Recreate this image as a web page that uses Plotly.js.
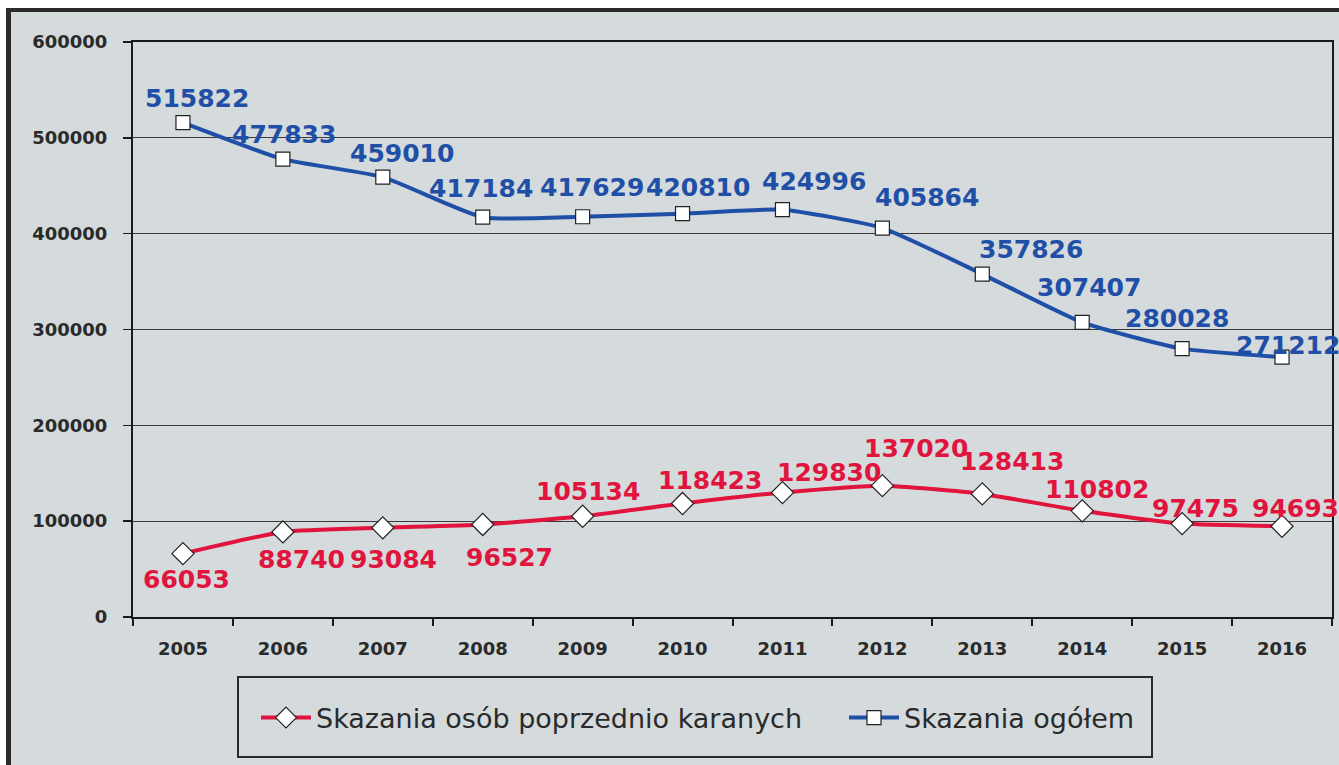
<!DOCTYPE html>
<html>
<head>
<meta charset="utf-8">
<script src="https://cdn.plot.ly/plotly-3.0.1.min.js"></script>
<style>
  html,body{margin:0;padding:0;background:#fff;}
  #wrap{position:relative;width:1339px;height:765px;overflow:hidden;}
  #chart{position:absolute;left:0;top:0;width:1339px;height:765px;}
  .b{position:absolute;}
</style>
</head>
<body>
<div id="wrap">
  <div id="chart"></div>
  <div class="b" style="left:0;top:0;width:1339px;height:8px;background:#fff"></div>
  <div class="b" style="left:0;top:8px;width:1339px;height:4px;background:#2b2b2b"></div>
  <div class="b" style="left:0;top:0;width:6px;height:765px;background:#fff"></div>
  <div class="b" style="left:6px;top:8px;width:5px;height:757px;background:#2b2b2b"></div>
</div>
<script>
const years = ['2005','2006','2007','2008','2009','2010','2011','2012','2013','2014','2015','2016'];
const totalConvictions = [515822, 477833, 459010, 417184, 417629, 420810, 424996, 405864, 357826, 307407, 280028, 271212];
const repeatConvictions = [66053, 88740, 93084, 96527, 105134, 118423, 129830, 137020, 128413, 110802, 97475, 94693];
const seriesNames = ['Skazania osób poprzednio karanych', 'Skazania ogółem'];
const yTicks = [0, 100000, 200000, 300000, 400000, 500000, 600000];

// label placement offsets in pixels relative to each marker (style, not data)
const totalLabelShiftX = [14, 1, 19, -2, 9, 15, 32, 45, 49, 7, -5, 6];
const totalLabelShiftY = [24, 25, 24, 29, 29, 26, 28, 31, 25, 35, 30, 12];
const repeatLabelShiftX = [4, 19, 11, 27, 5, 27, 47, 34, 30, 15, 13, 13];
const repeatLabelShiftY = [-26, -28, -32, -33, 25, 23, 20, 37, 32, 21, 15, 18];

const BLUE = '#1f4fa6';
const RED = '#e0143c';
const BG = '#d5dadd';
const DARK = '#2a2a2a';

const traces = [
  {
    x: years, y: repeatConvictions, name: seriesNames[0], legend: 'legend',
    type: 'scatter', mode: 'lines+markers',
    line: {color: RED, width: 4, shape: 'spline', smoothing: 0.5},
    marker: {symbol: 'diamond', size: 17, color: '#ffffff', line: {color: '#222', width: 1.2}},
    cliponaxis: false
  },
  {
    x: years, y: totalConvictions, name: seriesNames[1], legend: 'legend2',
    type: 'scatter', mode: 'lines+markers',
    line: {color: BLUE, width: 4, shape: 'spline', smoothing: 0.5},
    marker: {symbol: 'square', size: 14, color: '#ffffff', line: {color: '#222', width: 1.2}},
    cliponaxis: false
  }
];

// x given as the category index of years[i] on the category axis
function labels(values, color, sx, sy) {
  return values.map((v, i) => ({
    x: years.indexOf(years[i]), y: v, xref: 'x', yref: 'y', text: String(v), showarrow: false,
    xanchor: 'center', yanchor: 'middle', xshift: sx[i], yshift: sy[i],
    font: {family: 'DejaVu Sans', size: 25, color: color, weight: 'bold'}
  }));
}

const legendBase = {
  orientation: 'h', xanchor: 'left', yanchor: 'middle', y: (617 - 718) / 575,
  font: {family: 'DejaVu Sans', size: 27, color: DARK},
  bgcolor: 'rgba(0,0,0,0)', borderwidth: 0, itemwidth: 50
};

const layout = {
  width: 1339, height: 765,
  margin: {l: 133, r: 7, t: 42, b: 148},
  paper_bgcolor: BG, plot_bgcolor: BG,
  showlegend: true,
  legend: Object.assign({}, legendBase, {x: (256 - 133) / 1199}),
  legend2: Object.assign({}, legendBase, {x: (844 - 133) / 1199}),
  xaxis: {
    type: 'category', range: [-0.5, 11.5],
    showline: true, linecolor: '#1a1a1a', linewidth: 2, mirror: true,
    ticks: 'outside', tickson: 'boundaries', ticklen: 7, tickcolor: '#1a1a1a', tickwidth: 2,
    showgrid: false, ticklabelstandoff: 14,
    tickfont: {family: 'DejaVu Sans', size: 18, color: DARK, weight: 'bold'},
    fixedrange: true
  },
  yaxis: {
    range: [0, 600000], tickvals: yTicks, ticktext: yTicks.map(String),
    showline: true, linecolor: '#1a1a1a', linewidth: 2, mirror: true,
    ticks: 'outside', ticklen: 8, tickcolor: '#1a1a1a', tickwidth: 1.5,
    showgrid: true, gridcolor: '#3a3a3a', gridwidth: 1, zeroline: false,
    ticklabelstandoff: 12,
    tickfont: {family: 'DejaVu Sans', size: 18, color: DARK, weight: 'bold'},
    fixedrange: true
  },
  annotations: labels(totalConvictions, BLUE, totalLabelShiftX, totalLabelShiftY)
    .concat(labels(repeatConvictions, RED, repeatLabelShiftX, repeatLabelShiftY)),
  shapes: [{
    type: 'rect', xref: 'paper', yref: 'paper',
    x0: (238 - 133) / 1199, x1: (1152 - 133) / 1199,
    y0: (617 - 757) / 575, y1: (617 - 677) / 575,
    line: {color: '#2a2a2a', width: 2}, fillcolor: 'rgba(0,0,0,0)'
  }]
};

Plotly.newPlot('chart', traces, layout, {displayModeBar: false, staticPlot: true});
</script>
</body>
</html>
